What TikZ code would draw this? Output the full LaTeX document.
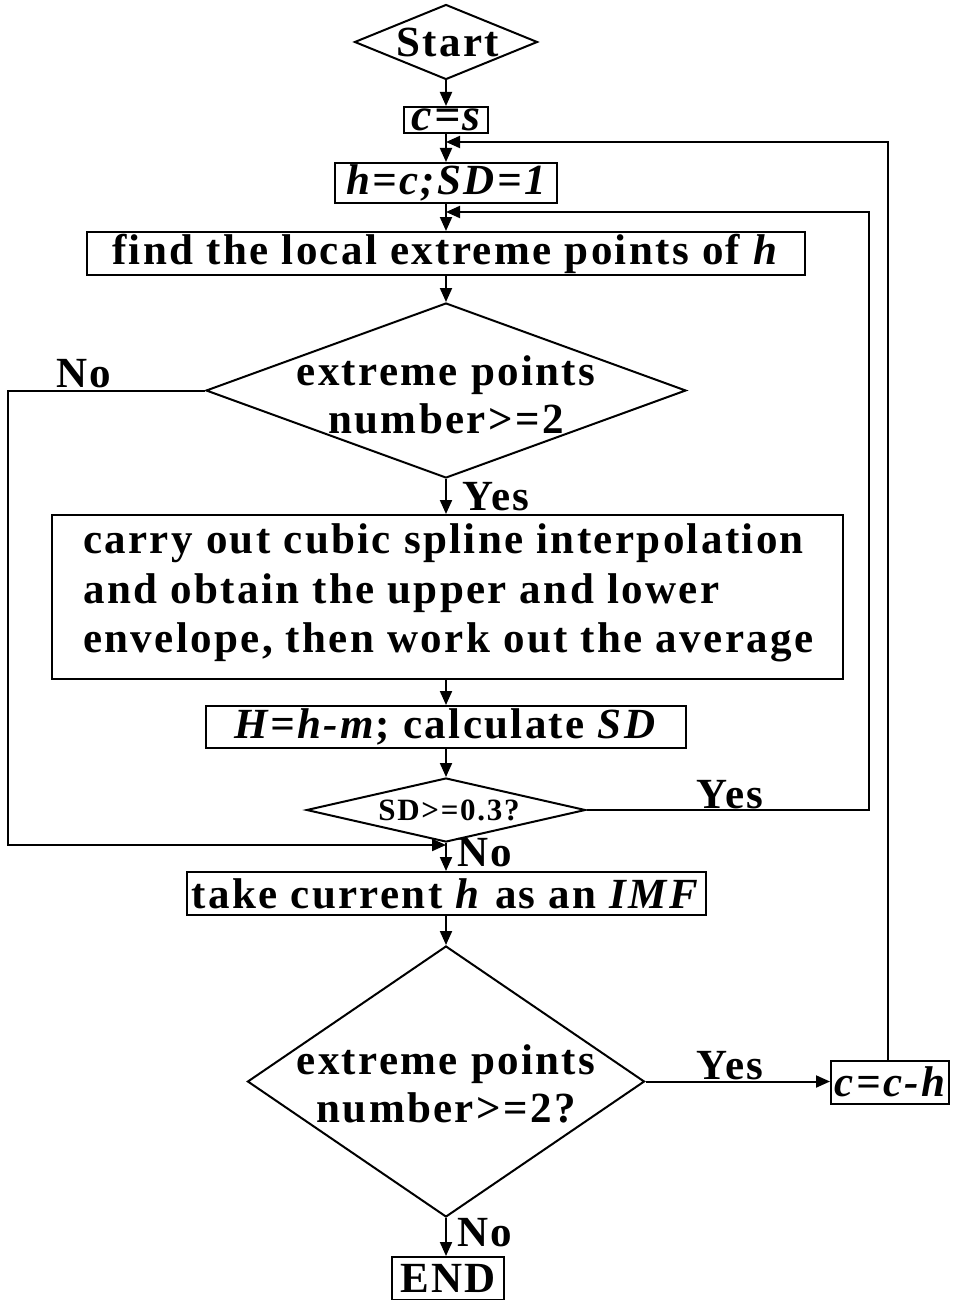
\documentclass[tikz,border=0pt]{standalone}
\usepackage{fontspec}
\setmainfont{Liberation Serif}[LetterSpace=5.5]
\usetikzlibrary{shapes.geometric,arrows.meta}
\begin{document}
\begin{tikzpicture}[x=1pt,y=-1pt,
  every node/.style={inner sep=0pt},
  txt/.style={font=\fontsize{43}{48}\selectfont\bfseries},
  bigfont/.style={font=\fontsize{43}{49.5}\selectfont\bfseries},
  small/.style={font=\fontsize{31}{36}\selectfont\bfseries},
  box/.style={draw, line width=2pt, rectangle, txt},
  dia/.style={draw, line width=2pt, diamond},
  arr/.style={line width=2pt, -{Triangle[length=14pt,width=12pt]}},
  ln/.style={line width=2pt}]
\useasboundingbox (0,0) rectangle (960,1300);
% nodes
\node[dia, minimum width=183pt, minimum height=75pt] (start) at (446,42) {};
\node[txt] (starttxt) at (448,42) {Start};
\node[box, minimum width=84pt, minimum height=26pt, font=\fontsize{46}{48}\selectfont\bfseries] (cs) at (446,120) {\itshape c=s};
\node[box, minimum width=222pt, minimum height=40pt] (hc) at (446,183) {\itshape h=c;SD=1};
\node[box, minimum width=718pt, minimum height=43pt] (find) at (446,253.5) {find the local extreme points of \textit{h}};
\node[dia, minimum width=480pt, minimum height=175pt] (d1) at (446,390.5) {};
\node[txt, align=center] (d1txt) at (446,395) {extreme points\\number>=2};
\node[draw, line width=2pt, minimum width=791pt, minimum height=164pt] (big) at (447.5,597) {};
\node[bigfont, anchor=west, align=left] (bigtxt) at (83,593) {carry out cubic spline interpolation\\and obtain the upper and lower\\envelope, then work out the average};
\node[box, minimum width=480pt, minimum height=42pt] (hm) at (446,727) {\textit{H=h-m}; calculate \textit{SD}};
\node[dia, minimum width=279pt, minimum height=64pt] (sd) at (446,810) {};
\node[small] (sdtxt) at (449,810) {SD>=0.3?};
\node[box, minimum width=519pt, minimum height=43pt] (take) at (446,893.5) {take current \textit{h} as an \textit{IMF}};
\node[dia, minimum width=397pt, minimum height=271pt] (d3) at (446,1081.5) {};
\node[txt, align=center] (d3txt) at (446,1084) {extreme points\\number>=2?};
\node[box, minimum width=118pt, minimum height=43pt] (cch) at (890,1082) {\itshape c=c-h};
\node[box, minimum width=112pt, minimum height=43pt] (end) at (448,1278.5) {END};
% labels
\node[txt] (lno1) at (84,374) {No};
\node[txt] (lyes1) at (496,497) {Yes};
\node[txt] (lyes2) at (730,795) {Yes};
\node[txt] (lno2) at (485,853) {No};
\node[txt] (lyes3) at (730,1066) {Yes};
\node[txt] (lno3) at (485,1233) {No};
% junction coordinates
\coordinate (j1) at (446,142);
\coordinate (j2) at (446,212);
\coordinate (j3) at (446,845);
\coordinate (r1) at (888,142);
\coordinate (r2) at (869,212);
\coordinate (l1) at (8,845);
% connectors
\draw[arr] (start.south) -- (cs.north);
\draw[arr] (cs.south) -- (hc.north);
\draw[arr] (hc.south) -- (find.north);
\draw[arr] (find.south) -- (d1.north);
\draw[arr] (d1.south) -- (d1.south |- big.north);
\draw[arr] (big.south -| hm.north) -- (hm.north);
\draw[arr] (hm.south) -- (sd.north);
\draw[arr] (sd.south) -- (take.north);
\draw[arr] (take.south) -- (d3.north);
\draw[arr] (d3.south) -- (d3.south |- end.north);
\draw[arr] (d3.east) -- (d3.east -| cch.west);
\draw[arr] (cch.north -| r1) -- (r1) -- (j1);
\draw[arr] (sd.east) -| (r2) -- (j2);
\draw[arr] (d1.west) -| (l1) -- (j3);
\end{tikzpicture}
\end{document}
